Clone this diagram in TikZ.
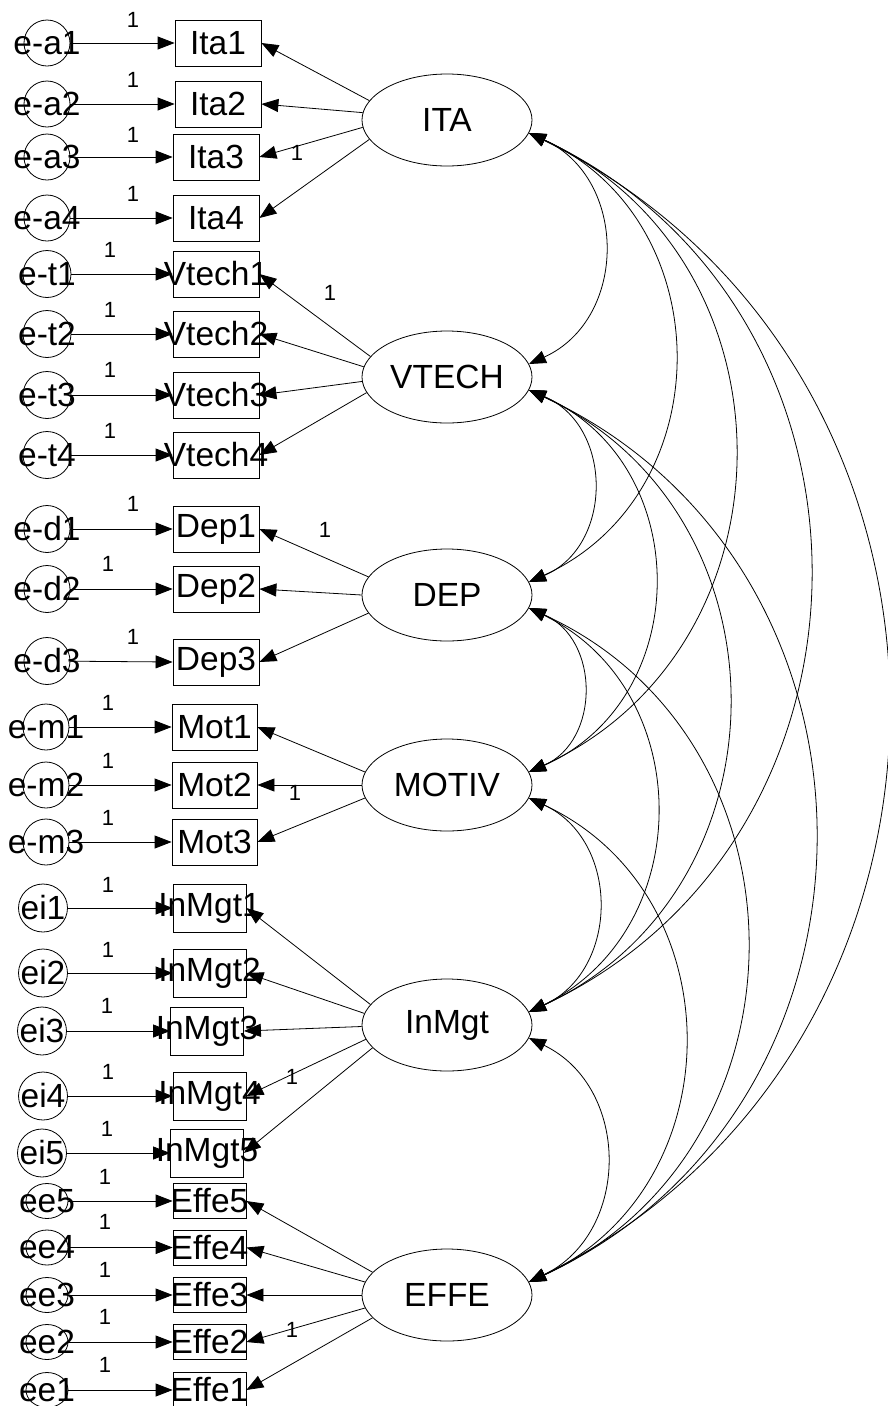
\documentclass[tikz,border=0pt]{standalone}
\usepackage{fontspec}
\setmainfont{Liberation Sans}
\usetikzlibrary{shapes.geometric,arrows.meta}
% centred text of zero width, so that labels may overhang their frames
\newcommand\zw[1]{\makebox[0pt]{#1}}
\begin{document}
\begin{tikzpicture}[x=1pt,y=-1pt,line width=0.8pt,
  every node/.style={font=\fontsize{33.5}{40}\selectfont},
  lat/.style={draw,ellipse,minimum width=170pt,minimum height=92pt,inner sep=0pt},
  obs/.style={draw,rectangle,inner sep=0pt,minimum width=86pt,minimum height=46pt},
  obsi/.style={obs,minimum width=73pt,minimum height=48pt},
  obse/.style={obs,minimum width=73pt,minimum height=35pt},
  err/.style={draw,ellipse,inner sep=0pt,minimum width=46pt,minimum height=46pt},
  erri/.style={err,minimum width=49pt,minimum height=48pt},
  erre/.style={err,minimum width=42pt,minimum height=35pt},
  tip/.style={-{Triangle[length=17pt,width=13pt]}},
  cov/.style={{Triangle[length=17pt,width=13pt]}-{Triangle[length=17pt,width=13pt]}},
  one/.style={font=\fontsize{22}{26}\selectfont,inner sep=0pt}]
\useasboundingbox (0,0) rectangle (888,1406);

% latent factors
\node[lat] (ita)   at (447,120)  {ITA};
\node[lat] (vtech) at (447,377)  {VTECH};
\node[lat] (dep)   at (447,595)  {DEP};
\node[lat] (motiv) at (447,785)  {MOTIV};
\node[lat] (inmgt) at (447,1025) {InMgt};
\node[lat] (effe)  at (447,1295) {EFFE};

% observed indicators
\node[obs] (ita1) at (218,43)  {\zw{Ita1}};
\node[obs] (ita2) at (218,104) {\zw{Ita2}};
\node[obs] (ita3) at (216,157) {\zw{Ita3}};
\node[obs] (ita4) at (216,218) {\zw{Ita4}};
\node[obs] (vt1) at (216,274) {\zw{Vtech1}};
\node[obs] (vt2) at (216,334) {\zw{Vtech2}};
\node[obs] (vt3) at (216,395) {\zw{Vtech3}};
\node[obs] (vt4) at (216,455) {\zw{Vtech4}};
\node[obs] (dep1) at (216,529) {\zw{Dep1}};
\node[obs] (dep2) at (216,589) {\zw{Dep2}};
\node[obs] (dep3) at (216,662) {\zw{Dep3}};
\node[obs,minimum width=85pt] (mot1) at (214.5,727) {\zw{Mot1}};
\node[obs,minimum width=85pt] (mot2) at (214.5,785) {\zw{Mot2}};
\node[obs,minimum width=85pt] (mot3) at (214.5,842) {\zw{Mot3}};
\node[obsi] (im1) at (209.5,908)  {\zw{InMgt1}};
\node[obsi] (im2) at (209.5,973)  {\zw{InMgt2}};
\node[obsi] (im3) at (207,1031)   {\zw{InMgt3}};
\node[obsi] (im4) at (209.5,1096) {\zw{InMgt4}};
\node[obsi] (im5) at (207,1153)   {\zw{InMgt5}};
\node[obse] (ef5) at (209.5,1201)   {\zw{Effe5}};
\node[obse] (ef4) at (209.5,1247.5) {\zw{Effe4}};
\node[obse] (ef3) at (209.5,1295)   {\zw{Effe3}};
\node[obse] (ef2) at (209.5,1342)   {\zw{Effe2}};
\node[obse] (ef1) at (209.5,1390)   {\zw{Effe1}};

% error terms
\node[err] (ea1) at (47,43)  {\zw{e-a1}};
\node[err] (ea2) at (47,104) {\zw{e-a2}};
\node[err] (ea3) at (47,157) {\zw{e-a3}};
\node[err] (ea4) at (47,218) {\zw{e-a4}};
\node[err,minimum width=48pt,minimum height=47pt] (et1) at (47,274) {\zw{e-t1}};
\node[err,minimum width=48pt,minimum height=47pt] (et2) at (47,334) {\zw{e-t2}};
\node[err,minimum width=48pt,minimum height=47pt] (et3) at (47,395) {\zw{e-t3}};
\node[err,minimum width=48pt,minimum height=47pt] (et4) at (47,455) {\zw{e-t4}};
\node[err,minimum height=47pt] (ed1) at (47,529) {\zw{e-d1}};
\node[err,minimum height=47pt] (ed2) at (47,589) {\zw{e-d2}};
\node[err,minimum height=47pt] (ed3) at (47,661) {\zw{e-d3}};
\node[err] (em1) at (46,727) {\zw{e-m1}};
\node[err] (em2) at (46,785) {\zw{e-m2}};
\node[err] (em3) at (46,842) {\zw{e-m3}};
\node[erri] (ei1) at (43,908)  {\zw{ei1}};
\node[erri] (ei2) at (43,973)  {\zw{ei2}};
\node[erri] (ei3) at (42,1031) {\zw{ei3}};
\node[erri] (ei4) at (43,1096) {\zw{ei4}};
\node[erri] (ei5) at (42,1153) {\zw{ei5}};
\node[erre] (ee5) at (47,1201)   {\zw{ee5}};
\node[erre] (ee4) at (47,1247.5) {\zw{ee4}};
\node[erre] (ee3) at (47,1295)   {\zw{ee3}};
\node[erre] (ee2) at (47,1342)   {\zw{ee2}};
\node[erre] (ee1) at (47,1390)   {\zw{ee1}};

% error paths
\foreach \e/\o in {ea1/ita1,ea2/ita2,ea3/ita3,ea4/ita4,et1/vt1,et2/vt2,et3/vt3,et4/vt4,
  ed1/dep1,ed2/dep2,ed3/dep3,em1/mot1,em2/mot2,em3/mot3,ei1/im1,ei2/im2,ei3/im3,ei4/im4,ei5/im5,
  ee5/ef5,ee4/ef4,ee3/ef3,ee2/ef2,ee1/ef1}
  \draw[tip] (\e) -- (\o.west);

% factor loadings
\draw[tip] (ita.166.8) -- (ita1.east);
\draw[tip] (ita.175)   -- (ita2.east);
\draw[tip] (ita.185)   -- (ita3.east);
\draw[tip] (ita.194.6) -- (ita4.east);
\draw[tip] (vtech.165.4) -- (vt1.east);
\draw[tip] (vtech.173)   -- (vt2.east);
\draw[tip] (vtech.183)   -- (vt3.east);
\draw[tip] (vtech.191.4) -- (vt4.east);
\draw[tip] (dep.167) -- (dep1.east);
\draw[tip] (dep.180) -- (dep2.east);
\draw[tip] (dep.193) -- (dep3.east);
\draw[tip] (motiv.171) -- (mot1.east);
\draw[tip] (motiv.180) -- (mot2.east);
\draw[tip] (motiv.189) -- (mot3.east);
\draw[tip] (inmgt.165.4) -- (im1.east);
\draw[tip] (inmgt.172.4) -- (im2.east);
\draw[tip] (inmgt.181.4) -- (im3.east);
\draw[tip] (inmgt.190.6) -- (im4.east);
\draw[tip] (inmgt.197.4) -- (im5.east);
\draw[tip] (effe.163) -- (ef5.east);
\draw[tip] (effe.171) -- (ef4.east);
\draw[tip] (effe.180) -- (ef3.east);
\draw[tip] (effe.189) -- (ef2.east);
\draw[tip] (effe.197) -- (ef1.east);

% fixed-parameter labels
\node[one] (wa1) at (133,19.5) {1};
\node[one] (wa2) at (133,80)   {1};
\node[one] (wa3) at (133,135)  {1};
\node[one] (wa4) at (133,193.5) {1};
\node[one] (wt1) at (110,250) {1};
\node[one] (wt2) at (110,310) {1};
\node[one] (wt3) at (110,370) {1};
\node[one] (wt4) at (110,431) {1};
\node[one] (wd1) at (133,504) {1};
\node[one] (wd2) at (108,564) {1};
\node[one] (wd3) at (133,637) {1};
\node[one] (wm1) at (108,703) {1};
\node[one] (wm2) at (108,761) {1};
\node[one] (wm3) at (108,818) {1};
\node[one] (wi1) at (108,885)  {1};
\node[one] (wi2) at (108,950)  {1};
\node[one] (wi3) at (107,1006) {1};
\node[one] (wi4) at (108,1072) {1};
\node[one] (wi5) at (107,1129) {1};
\node[one] (we5) at (105,1177) {1};
\node[one] (we4) at (105,1222) {1};
\node[one] (we3) at (105,1270) {1};
\node[one] (we2) at (105,1317) {1};
\node[one] (we1) at (105,1365) {1};
\node[one] (la) at (297,153)  {1};
\node[one] (lt) at (330,293)  {1};
\node[one] (ld) at (325,530)  {1};
\node[one] (lm) at (295,793)  {1};
\node[one] (li) at (292,1077) {1};
\node[one] (le) at (292,1330) {1};

% factor covariances
\draw[cov] (ita.-9) .. controls +(99.2,45.1)  and +(99.2,-45.1)  .. (vtech.9);
\draw[cov] (ita.-9) .. controls +(192.5,87.7) and +(192.5,-87.7) .. (dep.9);
\draw[cov] (ita.-9) .. controls +(272.5,125.8) and +(272.5,-125.8) .. (motiv.9);
\draw[cov] (ita.-9) .. controls +(372.5,174.6) and +(372.5,-174.6) .. (inmgt.9);
\draw[cov] (ita.-9) .. controls +(476.5,234.8) and +(476.5,-234.8) .. (effe.9);
\draw[cov] (vtech.-9) .. controls +(84.5,36.1)  and +(84.5,-36.1)  .. (dep.9);
\draw[cov] (vtech.-9) .. controls +(165.9,73.3) and +(165.9,-73.3) .. (motiv.9);
\draw[cov] (vtech.-9) .. controls +(264.5,123)  and +(264.5,-123)  .. (inmgt.9);
\draw[cov] (vtech.-9) .. controls +(379.2,176.4) and +(379.2,-176.4) .. (effe.9);
\draw[cov] (dep.-9) .. controls +(71.2,31.5)  and +(71.2,-31.5)  .. (motiv.9);
\draw[cov] (dep.-9) .. controls +(168.5,81.9) and +(168.5,-81.9) .. (inmgt.9);
\draw[cov] (dep.-9) .. controls +(288.5,132)  and +(288.5,-132)  .. (effe.9);
\draw[cov] (motiv.-9) .. controls +(91.2,42.2)  and +(91.2,-42.2)  .. (inmgt.9);
\draw[cov] (motiv.-9) .. controls +(205.9,95.7) and +(205.9,-95.7) .. (effe.9);
\draw[cov] (inmgt.-9) .. controls +(101.9,49.4) and +(101.9,-49.4) .. (effe.9);
\end{tikzpicture}
\end{document}
